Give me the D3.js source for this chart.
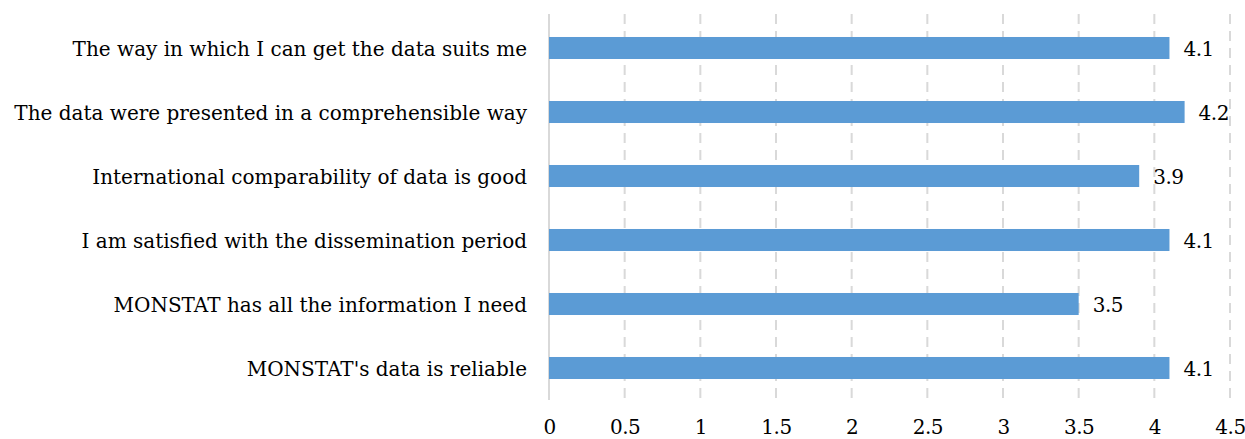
<!DOCTYPE html>
<html><head><meta charset="utf-8">
<script src="https://cdn.jsdelivr.net/npm/d3@7"></script>
<style>body{margin:0;background:#fff;} svg{display:block;} text{font-family:"DejaVu Serif",serif;fill:#000;}</style>
</head><body><svg id="c" width="1245" height="439"></svg>
<script>
const categories = ["The way in which I can get the data suits me","The data were presented in a comprehensible way","International comparability of data is good","I am satisfied with the dissemination period","MONSTAT has all the information I need","MONSTAT's data is reliable"];
const values = [4.1, 4.2, 3.9, 4.1, 3.5, 4.1];
const xTicks = [0,0.5,1,1.5,2,2.5,3,3.5,4,4.5];

const svg = d3.select("#c");
const mLeft = 549, mRight = 1230, mTop = 16, mBottom = 400;
const fs = "20px";
const x = d3.scaleLinear().domain([0,4.5]).range([mLeft,mRight]);
const y = d3.scaleBand().domain(categories).range([mTop,mBottom]).paddingInner(0.656).paddingOuter(0.328);

svg.append("g").selectAll("line").data(xTicks.slice(1)).join("line")
  .attr("x1",d=>x(d)).attr("x2",d=>x(d)).attr("y1",mTop-2).attr("y2",mBottom)
  .attr("stroke","#d9d9d9").attr("stroke-width",2).attr("stroke-dasharray","10,7");
svg.append("line").attr("x1",x(0)).attr("x2",x(0)).attr("y1",mTop-2).attr("y2",mBottom)
  .attr("stroke","#d9d9d9").attr("stroke-width",2);

svg.append("g").selectAll("rect").data(values).join("rect")
  .attr("x",x(0)).attr("y",(d,i)=>y(categories[i])).attr("width",d=>x(d)-x(0)).attr("height",y.bandwidth())
  .attr("fill","#5b9bd5");

svg.append("g").selectAll("text").data(values).join("text")
  .attr("x",d=>x(d)+14).attr("y",(d,i)=>y(categories[i])+y.bandwidth()/2).attr("dy","0.38em")
  .style("font-size",fs).style("letter-spacing","-0.5px").text(d=>d.toFixed(1));

const labels = svg.append("g").selectAll("text").data(categories).join("text")
  .attr("x",527).attr("y",d=>y(d)+y.bandwidth()/2).attr("dy","0.38em").attr("text-anchor","end")
  .style("font-size",fs).text(d=>d);

const xAxis = d3.axisBottom(x).tickValues(xTicks).tickSize(0).tickPadding(0).tickFormat(d=>String(d));
const ga = svg.append("g").attr("transform",`translate(0,${mBottom+34})`).call(xAxis);
ga.select(".domain").remove();
ga.selectAll("text").style("font-size",fs).style("letter-spacing","-0.5px").style("font-family","'DejaVu Serif',serif").attr("dy","0").attr("fill","#000");
</script></body></html>
